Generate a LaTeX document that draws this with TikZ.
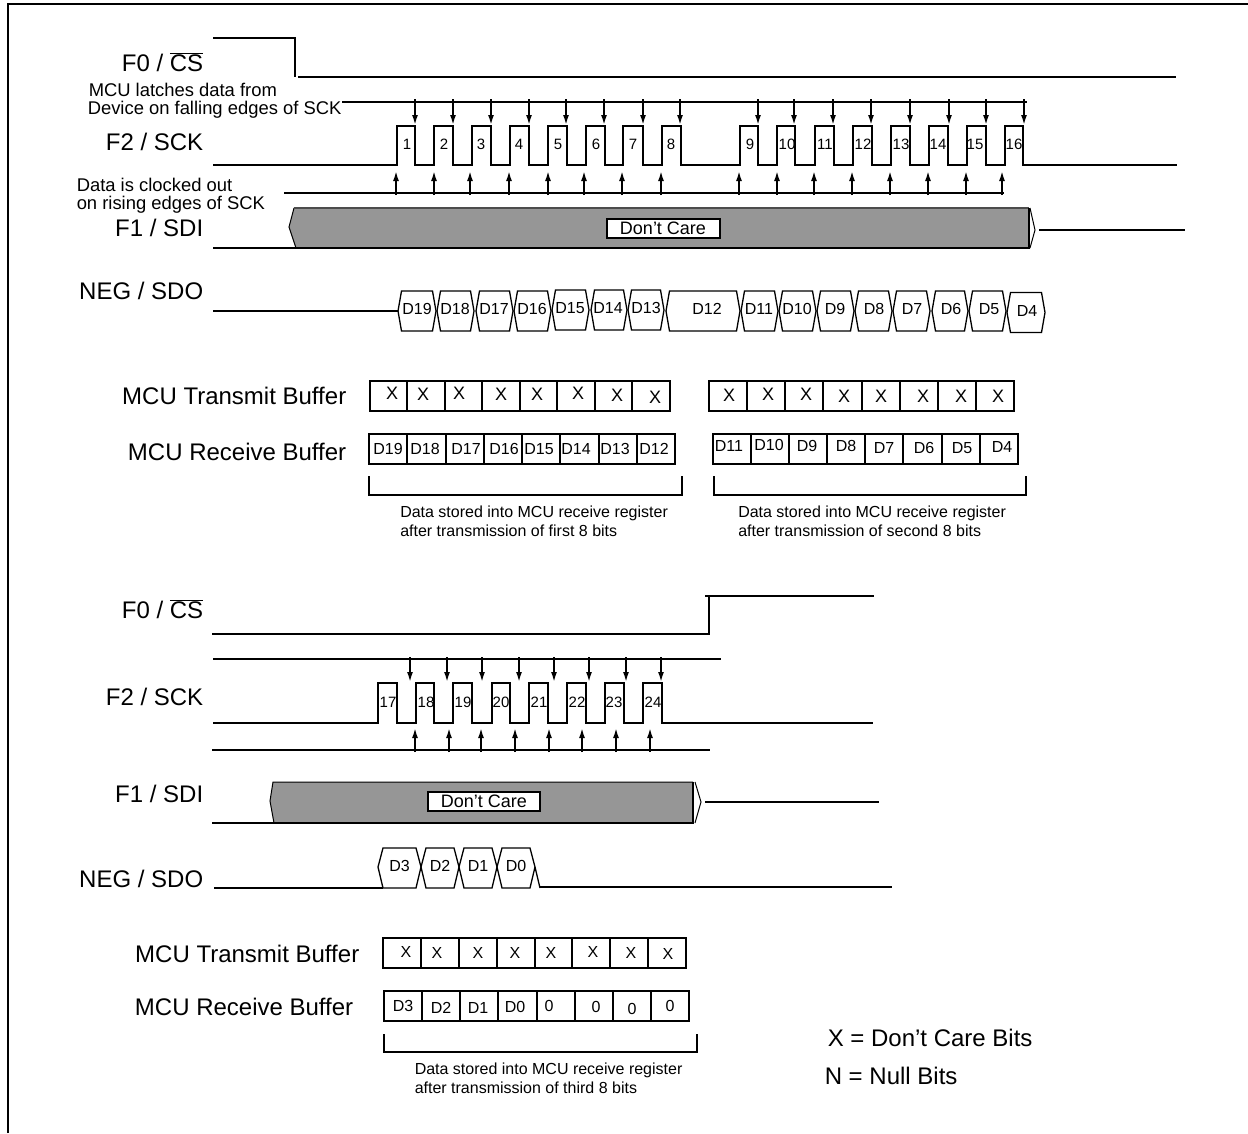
\documentclass[tikz,border=0pt]{standalone}
\usepackage{fontspec}
\setmainfont{Liberation Sans}
\usetikzlibrary{arrows.meta}
\definecolor{cgrey}{HTML}{969696}
\tikzset{
  every picture/.style={line width=1.5pt},
  sig/.style={draw=black, line width=2pt, line cap=butt},
  thinsig/.style={draw=black, line width=1pt},
  edgetick/.style={-{Latex[length=10pt, width=6pt]}, draw=black, line width=1.7pt},
  hexcell/.style={draw=black, line width=1.3pt, line join=miter},
  siglabel/.style={font=\fontsize{24}{28}\selectfont, anchor=east, inner sep=0pt},
  keytext/.style={font=\fontsize{24}{28}\selectfont, anchor=west, inner sep=0pt},
  note/.style={font=\fontsize{16}{19}\selectfont, anchor=west, inner sep=0pt},
  side/.style={font=\fontsize{18.4}{21}\selectfont, anchor=west, inner sep=0pt},
  digit/.style={font=\fontsize{15}{18}\selectfont, inner sep=0pt},
  cell/.style={font=\fontsize{16}{19}\selectfont, inner sep=0pt},
  bigcell/.style={font=\fontsize{18}{21}\selectfont, inner sep=0pt},
  care/.style={font=\fontsize{18}{21}\selectfont, draw=black, line width=2pt, fill=white, inner sep=0pt},
}
% x0, x1, top, bottom: row of eight buffer cells
\newcommand{\bufrow}[4]{%
  \draw[sig] (#1,#3) rectangle (#2,#4);
  \foreach \n in {1,...,7} \draw[sig] ({#1+\n*(#2-#1)/8},#3) -- ({#1+\n*(#2-#1)/8},#4);}
% x0, x1, top, bottom
\newcommand{\regspan}[4]{\draw[sig] (#1,#3) -- (#1,#4) -- (#2,#4) -- (#2,#3);}
\newcommand{\cslabel}{F0 / $\overline{\hbox{CS}}$}

\begin{document}
\begin{tikzpicture}[x=1pt, y=-1pt]
  \useasboundingbox (0,0) rectangle (1248,1133);
  \draw[sig] (8,1133) -- (8,4) -- (1248,4);
  % first transfer
  \node[siglabel] (csa) at (204,62) {\cslabel};
  \draw[sig] (213,38) -- (295,38) -- (295,77);
  \draw[sig] (298,77) -- (1176,77);
  \node[side] (latcha) at (88,90) {MCU latches data from};
  \node[side] (latchb) at (87,110) {Device on falling edges of SCK};
  \draw[sig] (342,102) -- (1027,102);
  \foreach \x in {415,453,491,529,566,604,643,680,758,794,833,871,910,949,986,1024}
    \draw[edgetick] (\x,99) -- (\x,125);
  \node[siglabel] (scka) at (204,142) {F2 / SCK};
  \draw[sig] (213,165) \foreach \r/\f in {397/415,434/453,472/491,510/529,548/567,586/605,623/643,662/681,740/758,777/795,815/834,853/872,891/910,929/948,967/986,1005/1023}
    { -- (\r,165) -- (\r,126) -- (\f,126) -- (\f,165) } -- (1177,165);
  \foreach \t/\x in {1/407,2/444,3/481,4/519,5/558,6/596,7/633,8/671,9/750,10/787,11/825,12/863,13/901,14/938,15/975,16/1014}
    \node[digit] (ck-\t) at (\x,144) {\t};
  \node[side] (clocka) at (76,185) {Data is clocked out};
  \node[side] (clockb) at (76,205) {on rising edges of SCK};
  \draw[sig] (284,193) -- (1004,193);
  \foreach \x in {396,434,470,509,548,584,622,661,739,777,814,852,890,928,966,1002}
    \draw[edgetick] (\x,195) -- (\x,171);
  \node[siglabel] (sdia) at (204,228) {F1 / SDI};
  \fill[cgrey] (289,227) -- (294,208) -- (1029,208) -- (1029,248) -- (296,248) -- cycle;
  \draw[thinsig] (296,248) -- (289,227) -- (294,208);
  \draw[line width=1.5pt, black!70] (294,208) -- (1029,208);
  \draw[sig] (213,248) -- (1029,248) -- (1029,208);
  \draw[thinsig] (1030,208) -- (1035,230) -- (1030,248);
  \draw[sig] (1039,230) -- (1185,230);
  \node[care, minimum width=113pt, minimum height=19pt] (carea) at (663,228) {Don’t Care};
  \node[siglabel] (sdoa) at (204,291) {NEG / SDO};
  \draw[sig] (213,311) -- (398,311);
  \foreach \t/\a/\b/\c/\d in {D19/398/436/417/0,D18/437/474/455/0,D17/476/513/494/0,D16/514/551/532/0,D15/552/589/570/-1,D14/591/627/608/-1,D13/628/664/646/-1,D12/666/740/707/0,D11/741/778/759/0,D10/779/816/797/0,D9/817/854/835/0,D8/855/892/874/0,D7/893/930/912/0,D6/932/968/951/0,D5/969/1006/989/0,D4/1007/1045/1027/1.5} {
    \draw[hexcell] (\a,311+\d) -- ({\a+3.5},291+\d) -- ({\b-3.5},291+\d) -- (\b,311+\d) -- ({\b-3.5},331+\d) -- ({\a+3.5},331+\d) -- cycle;
    \node[cell] (sdo-\t) at (\c,{309+\d}) {\t};}
  % first buffers
  \node[siglabel] (txa) at (347,396) {MCU Transmit Buffer};
  \node[siglabel] (rxa) at (347,452) {MCU Receive Buffer};
  \bufrow{369.5}{670}{381}{411}
  \foreach \x/\y [count=\i] in {392/393,423/394,459/393,501/394,537/394,578/393,617/395,655/397}
    \node[bigcell] (txa-\i) at (\x,\y) {X};
  \bufrow{369}{675}{434}{464}
  \foreach \t/\x in {D19/388,D18/425,D17/466,D16/504,D15/539,D14/576,D13/615,D12/654}
    \node[cell] (rxa-\t) at (\x,449) {\t};
  \regspan{369}{682}{476}{495}
  \node[note] (notea) at (399.5,513) {Data stored into MCU receive register};
  \node[note] (noteb) at (399.5,531) {after transmission of first 8 bits};
  \bufrow{709}{1014}{381}{411}
  \foreach \x/\y [count=\i] in {729/395,768/394,806/394,844/396,881/396,923/396,961/396,998/396}
    \node[bigcell] (txb-\i) at (\x,\y) {X};
  \bufrow{712.5}{1018}{434}{464}
  \foreach \t/\x/\y in {D11/729/446,D10/769/445,D9/807/446,D8/846/446,D7/884/448,D6/924/448,D5/962/448,D4/1002/447}
    \node[cell] (rxb-\t) at (\x,\y) {\t};
  \regspan{714}{1026}{476}{495}
  \node[note] (notec) at (737.5,513) {Data stored into MCU receive register};
  \node[note] (noted) at (737.5,531) {after transmission of second 8 bits};
  % second transfer
  \node[siglabel] (csb) at (204,609) {\cslabel};
  \draw[sig] (212,634) -- (708.5,634) -- (708.5,596);
  \draw[sig] (705,596) -- (874,596);
  \draw[sig] (213,659) -- (721,659);
  \foreach \x in {410,447,482,519,554,589,626,661}
    \draw[edgetick] (\x,657) -- (\x,682);
  \node[siglabel] (sckb) at (204,697) {F2 / SCK};
  \draw[sig] (213,723) \foreach \r/\f in {378/397,416/434,453/472,492/510,529/548,567/586,605/624,643/662}
    { -- (\r,723) -- (\r,683) -- (\f,683) -- (\f,723) } -- (873,723);
  \foreach \t/\x in {17/388,18/426,19/463,20/501,21/539,22/577,23/614,24/653}
    \node[digit] (ck-\t) at (\x,702) {\t};
  \draw[sig] (212,750) -- (710,750);
  \foreach \x in {415,449,481,515,549,582,616,650}
    \draw[edgetick] (\x,752) -- (\x,728);
  \node[siglabel] (sdib) at (204,794) {F1 / SDI};
  \fill[cgrey] (270,801) -- (273,782) -- (693,782) -- (693,823) -- (274,823) -- cycle;
  \draw[thinsig] (274,823) -- (270,801) -- (273,782) -- (693,782);
  \draw[sig] (212,823) -- (693,823) -- (693,782);
  \draw[thinsig] (695,782) -- (701,802) -- (695,823);
  \draw[sig] (705,802) -- (879,802);
  \node[care, minimum width=112pt, minimum height=19pt] (careb) at (484,801) {Don’t Care};
  \node[siglabel] (sdob) at (204,879) {NEG / SDO};
  \draw[sig] (214,888) -- (383,888);
  \draw[sig] (540,887) -- (892,887);
  \foreach \t/\a/\b in {D3/378/421,D2/421/459,D1/459/497,D0/497/535} {
    \draw[hexcell] (\a,867) -- ({\a+5},848) -- ({\b-5},848) -- (\b,867) -- ({\b-5},888) -- ({\a+5},888) -- cycle;
    \node[cell] (sdo-\t) at ({(\a+\b)/2},866) {\t};}
  \draw[hexcell] (535,867) -- (540,888);
  % second buffers
  \node[siglabel] (txc) at (360,954) {MCU Transmit Buffer};
  \node[siglabel] (rxc) at (354,1007) {MCU Receive Buffer};
  \bufrow{383}{686}{938}{968}
  \foreach \x/\y [count=\i] in {406/952,437/953,478/953,515/953,551/953,593/952,631/953,668/954}
    \node[cell] (txc-\i) at (\x,\y) {X};
  \bufrow{384}{689}{991}{1021}
  \foreach \t/\x/\y [count=\i] in {D3/403/1006,D2/441/1008,D1/478/1008,D0/515/1007,0/549/1006,0/596/1007,0/632/1009,0/670/1006}
    \node[cell] (rxc-\i) at (\x,\y) {\t};
  \regspan{384}{697}{1034}{1052}
  \node[note] (notee) at (414,1070) {Data stored into MCU receive register};
  \node[note] (notef) at (414,1088) {after transmission of third 8 bits};
  % key
  \node[keytext] (keyx) at (827,1038) {X = Don’t Care Bits};
  \node[keytext] (keyn) at (824,1076) {N = Null Bits};
\end{tikzpicture}
\end{document}
